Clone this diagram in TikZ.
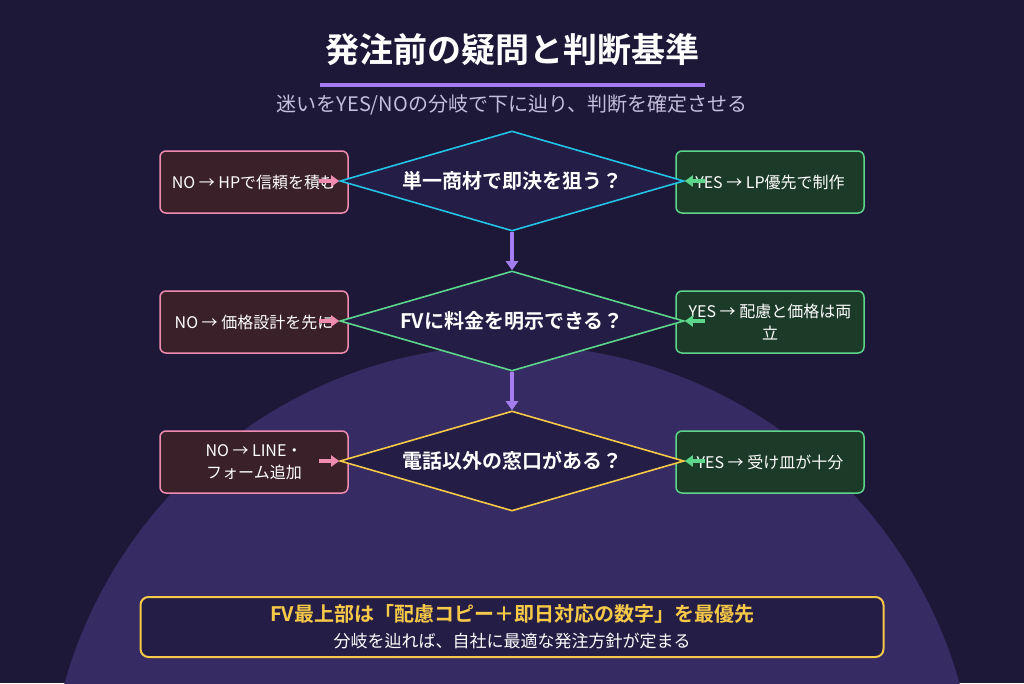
\documentclass[tikz,border=0pt]{standalone}
\usepackage{fontspec}
\setmainfont{Noto Sans CJK JP}
\newfontfamily\jpbold{Noto Sans CJK JP}[FakeBold=0,UprightFont=* Bold]
\usetikzlibrary{shapes.geometric,arrows.meta}
\definecolor{bgnavy}{HTML}{1E1838}
\definecolor{bgcircle}{HTML}{372B63}
\definecolor{dfill}{HTML}{241D45}
\definecolor{cyanln}{HTML}{22C3E6}
\definecolor{greenln}{HTML}{5CD68A}
\definecolor{yellowln}{HTML}{F7C948}
\definecolor{pinkln}{HTML}{F08CB0}
\definecolor{nofill}{HTML}{3A2028}
\definecolor{yesfill}{HTML}{1C3A28}
\definecolor{purpleln}{HTML}{A47EF0}
\definecolor{subtxt}{HTML}{C4BEDC}
\begin{document}
\begin{tikzpicture}[x=1pt,y=-1pt]
		\tikzset{q/.style={diamond, aspect=3.44, minimum width=344pt, minimum height=100pt, inner sep=0pt, fill=dfill, line width=1.6pt, text=white, font=\jpbold\fontsize{20}{22}\selectfont},
			nobox/.style={rectangle, rounded corners=6pt, minimum width=188pt, minimum height=62pt, inner sep=2pt, fill=nofill, draw=pinkln, line width=1.5pt, text=white, align=center, font=\fontsize{16}{22}\selectfont},
			yesbox/.style={nobox, fill=yesfill, draw=greenln},
			flow/.style={-{Triangle[length=9pt,width=12pt]}, purpleln, line width=3.5pt},
			sidearrow/.style={-{Triangle[length=8pt,width=11pt]}, line width=4pt}};

		\fill[bgnavy] (0,0) rectangle (1024,683);
		\begin{scope}
			\clip (0,0) rectangle (1024,683);
			\fill[bgcircle] (512,810) circle (465pt);
		\end{scope}

		\node[text=white, font=\jpbold\fontsize{34}{36}\selectfont] (title) at (512,50) {発注前の疑問と判断基準};
		\draw[purpleln, line width=3.5pt] (320,85) -- (705,85);
		\node[text=subtxt, font=\fontsize{20}{22}\selectfont] (sub) at (512,105) {迷いをYES/NOの分岐で下に辿り、判断を確定させる};

		\node[nobox] (n1) at (254,182) {NO → HPで信頼を積む};
		\node[yesbox] (y1) at (770,182) {YES → LP優先で制作};
		\node[nobox] (n2) at (254,322) {NO → 価格設計を先に};
		\node[yesbox] (y2) at (770,322) {YES → 配慮と価格は両\\立};
		\node[nobox] (n3) at (254,462) {NO → LINE・\\フォーム追加};
		\node[yesbox] (y3) at (770,462) {YES → 受け皿が十分};

		\node[q, draw=cyanln] (q1) at (512,181) {単一商材で即決を狙う？};
		\node[q, draw=greenln] (q2) at (512,321) {FVに料金を明示できる？};
		\node[q, draw=yellowln] (q3) at (512,461) {電話以外の窓口がある？};

		\draw[flow] (q1.south) -- (q2.north);
		\draw[flow] (q2.south) -- (q3.north);

		\foreach \k in {1,2,3} {
			\coordinate (nl\k) at ([xshift=-20pt]q\k.west);
			\coordinate (yr\k) at ([xshift=20pt]q\k.east);
			\draw[sidearrow, pinkln] (nl\k) -- (q\k.west);
			\draw[sidearrow, greenln] (yr\k) -- (q\k.east);
		}

		\node[rectangle, rounded corners=8pt, minimum width=743pt, minimum height=60pt, fill=dfill, draw=yellowln, line width=2pt] (sum) at (512,627) {};
		\node[text=yellowln, font=\jpbold\fontsize{20}{22}\selectfont] (sumt) at (512,614) {FV最上部は「配慮コピー＋即日対応の数字」を最優先};
		\node[text=white, font=\fontsize{17}{19}\selectfont] (sums) at (512,641) {分岐を辿れば、自社に最適な発注方針が定まる};
	\end{tikzpicture}
\end{document}
